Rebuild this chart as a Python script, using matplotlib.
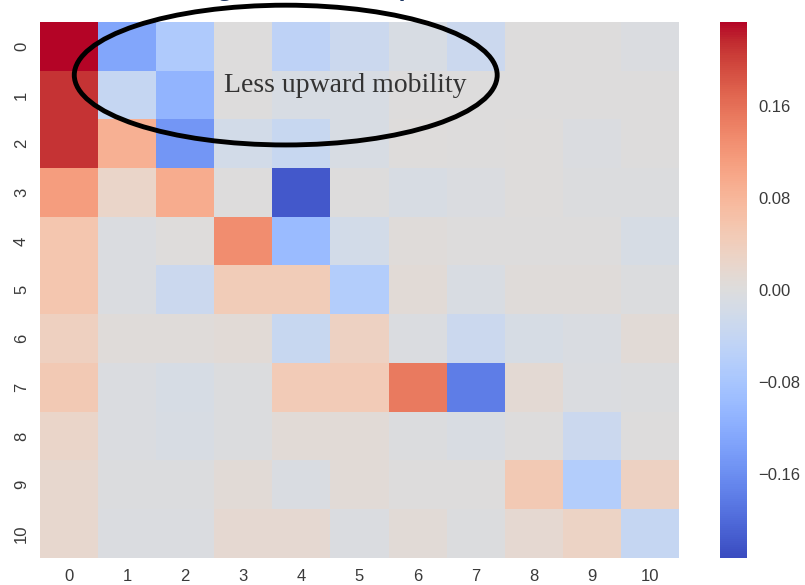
import numpy as np
import matplotlib
matplotlib.use("Agg")
import matplotlib.pyplot as plt
import seaborn as sns
from matplotlib.patches import Ellipse

# change in transition shares, origin decile (rows) x destination decile (cols)
labels = list(range(11))
row0 = [0.233, -0.130, -0.070, 0.000, -0.050, -0.030, -0.010, -0.030, 0.000, 0.000, -0.005]
row1 = [0.210, -0.040, -0.110, 0.000, -0.010, -0.010, 0.000, 0.000, 0.000, 0.000, 0.000]
row2 = [0.210, 0.089, -0.150, -0.020, -0.035, -0.010, 0.003, 0.000, 0.003, -0.005, 0.000]
row3 = [0.112, 0.025, 0.093, 0.000, -0.220, 0.000, -0.010, -0.005, 0.003, -0.003, -0.003]
row4 = [0.056, -0.005, 0.003, 0.130, -0.100, -0.020, 0.005, 0.000, 0.000, 0.000, -0.012]
row5 = [0.055, -0.005, -0.030, 0.045, 0.045, -0.065, 0.008, -0.008, 0.005, 0.005, -0.002]
row6 = [0.035, 0.005, 0.005, 0.008, -0.035, 0.033, -0.005, -0.030, -0.012, -0.006, 0.008]
row7 = [0.050, -0.004, -0.012, -0.002, 0.047, 0.047, 0.150, -0.180, 0.012, -0.004, -0.003]
row8 = [0.025, -0.004, -0.010, -0.002, 0.008, 0.008, -0.002, -0.008, 0.000, -0.030, 0.000]
row9 = [0.020, -0.002, -0.002, 0.008, -0.006, 0.008, 0.000, 0.000, 0.050, -0.065, 0.033]
row10 = [0.020, -0.004, -0.004, 0.015, 0.015, -0.005, 0.008, -0.002, 0.015, 0.030, -0.040]
cbar_ticks = [-0.16, -0.08, 0.00, 0.08, 0.16]

data = np.array([row0, row1, row2, row3, row4, row5, row6, row7, row8, row9, row10])

plt.rcParams['font.family'] = ['Liberation Sans', 'DejaVu Sans']

fig = plt.figure(figsize=(8.05, 5.85), dpi=100)
ax = fig.add_axes([0.0497, 0.0467, 0.7938, 0.9157])
cax = fig.add_axes([0.8944, 0.0467, 0.0335, 0.9157])

sns.heatmap(data, ax=ax, cbar_ax=cax, cmap="coolwarm", vmin=-0.233, vmax=0.233,
            xticklabels=labels, yticklabels=labels,
            cbar_kws={"ticks": cbar_ticks, "format": "%.2f"})

ax.tick_params(axis="x", length=0, labelsize=12, colors="#3a3a3a", pad=8)
ax.tick_params(axis="y", length=0, labelsize=12, colors="#3a3a3a", pad=8)
ax.set_yticklabels(labels, rotation=90, va="center")
cax.tick_params(length=0, labelsize=12, colors="#3a3a3a", pad=8)
cax.set_yticklabels(["\u22120.16", "\u22120.08", "0.00", "0.08", "0.16"])

# annotation
ell = Ellipse((4.23, 1.09), 7.28, 2.87, fill=False, edgecolor="black", lw=3.5, clip_on=False)
ax.add_patch(ell)
ax.text(5.25, 1.3, "Less upward mobility", family="Liberation Serif", fontsize=20,
        color="#333333", ha="center", va="center")

# slide title, mostly cut off by the top edge
fig.text(0.199, 1.008, "Change in transition probabilities", family="Open Sans",
         fontsize=16.5, fontweight="bold", color="#1f3864", ha="left", va="baseline")

fig.savefig("out.png", dpi=100)
